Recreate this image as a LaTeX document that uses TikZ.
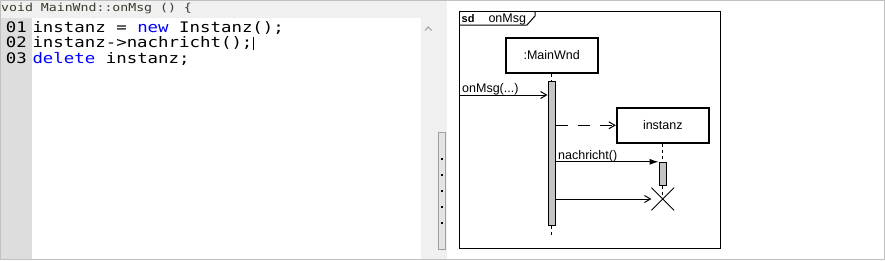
\documentclass[tikz,border=0pt]{standalone}
\usepackage{fontspec}
\setmainfont{Liberation Sans}
\newfontfamily\codefont[FakeStretch=1.2]{DejaVu Sans Mono}
\definecolor{panelgray}{RGB}{240, 240, 240}
\definecolor{guttergray}{RGB}{221, 221, 221}
\definecolor{bordergray}{RGB}{192, 192, 192}
\definecolor{headtext}{RGB}{60, 58, 46}
\definecolor{keyblue}{RGB}{0, 0, 255}
\definecolor{scrollfill}{RGB}{228, 228, 228}
\definecolor{scrollline}{RGB}{160, 160, 160}
\definecolor{actgray}{RGB}{196, 196, 196}
\usetikzlibrary{arrows.meta, positioning, shapes.misc}

\tikzset{
  headline/.style={anchor=base west, inner sep=0pt, text=headtext,
    font=\codefont\fontsize{11}{13}\selectfont},
  codeline/.style={anchor=base west, inner sep=0pt,
    font=\codefont\fontsize{14.5}{16}\selectfont},
  sdlabel/.style={anchor=base west, inner sep=0pt, font=\fontsize{12.5}{15}\selectfont},
  lifebox/.style={draw, line width=2pt, minimum width=92pt, minimum height=35.3pt,
    inner sep=0pt, font=\fontsize{12.5}{15}\selectfont},
  actbar/.style={draw, line width=1pt, fill=actgray, minimum width=7.4pt, inner sep=0pt},
  killmark/.style={draw, cross out, line width=0.8pt, minimum size=22pt, inner sep=0pt},
  lifeline/.style={line width=1pt, dash pattern=on 3pt off 3pt},
  asyncmsg/.style={line width=1pt, -{Straight Barb[length=6pt, width=7pt]}},
  createmsg/.style={asyncmsg, dash pattern=on 12pt off 10pt},
  syncmsg/.style={line width=1pt, -{Latex[length=9pt, width=6pt]}}
}

\begin{document}
\begin{tikzpicture}[x=1pt, y=-1pt]
  \useasboundingbox (0,0) rectangle (885,260);

  % window panels
  \fill[panelgray] (0,0) rectangle (447,18);
  \fill[guttergray] (0,18) rectangle (32,260);
  \fill[panelgray] (421,18) rectangle (447,260);
  \draw[bordergray, line width=1pt] (0.5,0.5) rectangle (884.5,259.5);

  % code editor
  \node[headline] (head) at (1,11) {void MainWnd::onMsg () \{};
  \node[codeline] (num1) at (5.7,32) {01};
  \node[codeline] (num2) at (5.7,47.5) {02};
  \node[codeline] (num3) at (5.7,63) {03};
  \node[codeline] (code1) at (32.3,32) {instanz = \textcolor{keyblue}{new} Instanz();};
  \node[codeline] (code2) at (32.3,47.5) {instanz->nachricht();};
  \node[codeline] (code3) at (32.3,63) {\textcolor{keyblue}{delete} instanz;};
  \draw[line width=0.8pt] (253,37) -- (253,50);

  % splitter
  \draw[scrollline, line width=1pt] (425,30.5) -- (428.3,27) -- (431.6,30.5);
  \draw[scrollline, fill=scrollfill, line width=1pt] (438,132.5) rectangle (445.5,249);
  \foreach \y in {159,175,191,207,223}
    \fill (440.8,\y-0.9) rectangle +(1.8,1.8);

  % sequence diagram frame
  \draw[line width=1pt] (459,11.5) rectangle (720.5,248);
  \draw[line width=1pt] (459,25) -- (527,25) -- (535,16) -- (535,11.5);
  \node[sdlabel, font=\bfseries\fontsize{11}{13}\selectfont] (sdkw) at (461.5,22.5) {sd};
  \node[sdlabel] (sdname) at (488.3,22.5) {onMsg};

  % lifelines
  \node[lifebox] (mainwnd) at (551.7,55.3) {:MainWnd};
  \node[lifebox] (instanz) at (662.8,125.3) {instanz};
  \node[actbar, minimum height=144.3pt] (act1) at (551.7,153.2) {};
  \node[actbar, minimum height=23pt] (act2) at (662.8,173.8) {};
  \node[killmark] (kill) at (662.8,199) {};
  \coordinate (found) at (459,95);
  \coordinate (end1) at (551.7,236);
  \draw[lifeline] (mainwnd.south) -- (act1.north);
  \draw[lifeline] (act1.south) -- (end1);
  \draw[lifeline] (instanz.south) -- (act2.north);
  \draw[lifeline] (act2.south) -- (kill.center);

  % messages
  \draw[asyncmsg] (found) -- (found -| act1.west);
  \node[sdlabel] (lblmsg) at (462,92.5) {onMsg(...)};
  \draw[createmsg] (act1.east |- instanz.west) -- (instanz.west);
  \draw[syncmsg] (act1.east |- act2.north) -- (act2.north west);
  \node[sdlabel] (lblcall) at (558,159.5) {nachricht()};
  \draw[asyncmsg] (act1.east |- kill.center) -- (kill.west);
\end{tikzpicture}
\end{document}
